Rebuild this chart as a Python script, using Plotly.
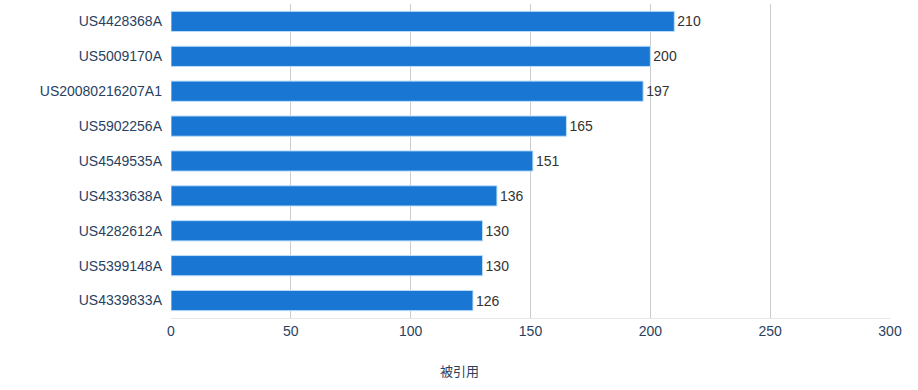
import plotly.graph_objects as go

patents = ["US4428368A", "US5009170A", "US20080216207A1", "US5902256A", "US4549535A",
           "US4333638A", "US4282612A", "US5399148A", "US4339833A"]
citations = [210, 200, 197, 165, 151, 136, 130, 130, 126]
x_ticks = [0, 50, 100, 150, 200, 250, 300]
x_title = "被引用"

W, H = 918, 390
L, R, T, B = 171, 28, 4, 72
plot_h = H - T - B

fig = go.Figure(go.Bar(
    x=citations, y=patents, orientation="h",
    marker=dict(color="#1976D2", line=dict(color="#BBDEFB", width=1)),
    text=citations, textposition="outside", cliponaxis=False,
    textfont=dict(color="#333333", size=14),
))
fig.update_layout(
    width=W, height=H,
    margin=dict(l=L, r=R, t=T, b=B),
    paper_bgcolor="white", plot_bgcolor="white",
    font=dict(family="Liberation Sans, Arial, sans-serif", size=14, color="#2a3f5f"),
    bargap=0.42, showlegend=False,
    xaxis=dict(range=[0, 300], tickvals=x_ticks, showgrid=True, gridcolor="#cccccc",
               zeroline=False, showline=True, linecolor="#e6e6e6"),
    yaxis=dict(autorange="reversed", showgrid=False, ticks="", ticklabelstandoff=8),
    annotations=[dict(text=x_title, xref="paper", yref="paper",
                      x=(W / 2 - L) / (W - L - R), y=-52 / plot_h,
                      xanchor="center", yanchor="middle", showarrow=False,
                      font=dict(family="Noto Sans CJK JP", size=13, color="#2a3f5f"))],
)
fig.write_html("out.html", config={"displayModeBar": False},
               post_script="document.body.style.margin='0px';")
